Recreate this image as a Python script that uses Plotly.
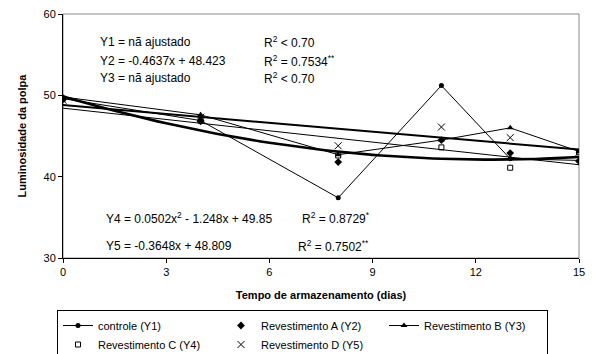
import plotly.graph_objects as go

days = [0, 4, 8, 11, 13, 15]
controle = [49.6, 46.9, 37.4, 51.2, 42.2, 42.0]
rev_a = [49.5, 46.8, 41.8, 44.5, 42.9, 41.9]
rev_b = [49.8, 47.6, 42.7, 44.5, 46.0, 43.1]
rev_c = [49.6, 46.9, 42.6, 43.6, 41.1, 43.0]
rev_d = [49.4, 47.3, 43.8, 46.1, 44.8, 43.0]

# trendline coefficients printed on the chart (c2, c1, c0)
coef_y2 = [0.0, -0.4637, 48.423]
coef_y4 = [0.0502, -1.248, 49.85]
coef_y5 = [0.0, -0.3648, 48.809]

x_tick_vals = [0, 3, 6, 9, 12, 15]
y_tick_vals = [30, 40, 50, 60]

FONT = "Arial, Liberation Sans, sans-serif"

xs = [i * 0.25 for i in range(61)]
def curve(c):
    return [c[0] * x * x + c[1] * x + c[2] for x in xs]

fig = go.Figure()

# trendlines
fig.add_trace(go.Scatter(x=xs, y=curve(coef_y2), mode="lines",
                         line=dict(color="black", width=1), showlegend=False, hoverinfo="skip"))
fig.add_trace(go.Scatter(x=xs, y=curve(coef_y5), mode="lines",
                         line=dict(color="black", width=2), showlegend=False, hoverinfo="skip"))
fig.add_trace(go.Scatter(x=xs, y=curve(coef_y4), mode="lines",
                         line=dict(color="black", width=2.6), showlegend=False, hoverinfo="skip"))

fig.add_trace(go.Scatter(x=days, y=controle, mode="lines+markers", name="controle (Y1)",
                         line=dict(color="black", width=1),
                         marker=dict(symbol="circle", size=5, color="black")))
fig.add_trace(go.Scatter(x=days, y=rev_a, mode="markers", name="Revestimento A (Y2)",
                         marker=dict(symbol="diamond", size=6, color="black")))
fig.add_trace(go.Scatter(x=days, y=rev_b, mode="lines+markers", name="Revestimento B (Y3)",
                         line=dict(color="black", width=1),
                         marker=dict(symbol="triangle-up", size=6, color="black")))
fig.add_trace(go.Scatter(x=days, y=rev_c, mode="markers", name="Revestimento C (Y4)",
                         marker=dict(symbol="square-open", size=5, color="black",
                                     line=dict(width=1, color="black"))))
fig.add_trace(go.Scatter(x=days, y=rev_d, mode="markers", name="Revestimento D (Y5)",
                         marker=dict(symbol="x-thin-open", size=7, color="black",
                                     line=dict(width=1, color="black"))))

def note(x, y, text):
    fig.add_annotation(x=x, y=y, xref="paper", yref="paper", text=text, showarrow=False,
                       xanchor="left", yanchor="middle", font=dict(size=12, color="black", family=FONT))

def px_x(p):
    return (p - 63) / (579 - 63)

def px_y(p):
    return (258 - p) / (258 - 14)

note(px_x(98), px_y(42), "Y1 = nã ajustado")
note(px_x(98), px_y(61), "Y2 = -0.4637x + 48.423")
note(px_x(98), px_y(78), "Y3 = nã ajustado")
note(px_x(262), px_y(42), "R<sup>2</sup> < 0.70")
note(px_x(262), px_y(61), "R<sup>2</sup> = 0.7534<sup>**</sup>")
note(px_x(262), px_y(78), "R<sup>2</sup> < 0.70")
note(px_x(104), px_y(218), "Y4 = 0.0502x<sup>2</sup> - 1.248x + 49.85")
note(px_x(104), px_y(246), "Y5 = -0.3648x + 48.809")
note(px_x(300), px_y(218), "R<sup>2</sup> = 0.8729<sup>*</sup>")
note(px_x(296), px_y(246), "R<sup>2</sup> = 0.7502<sup>**</sup>")

# gray frame (top/right)
fig.add_shape(type="rect", xref="paper", yref="paper", x0=0, y0=0, x1=1, y1=1,
              line=dict(color="#888888", width=1), layer="below")

fig.update_layout(
    width=594, height=354,
    margin=dict(l=63, r=15, t=14, b=96, autoexpand=False),
    paper_bgcolor="white", plot_bgcolor="white",
    font=dict(family=FONT, size=11, color="black"),
    xaxis=dict(range=[0, 15], tickvals=x_tick_vals, showgrid=False, zeroline=False,
               showline=True, linecolor="black", linewidth=1, ticks="outside", ticklen=4,
               tickcolor="black", tickfont=dict(size=11),
               title=dict(text="<b>Tempo de armazenamento (dias)</b>", font=dict(size=11), standoff=14)),
    yaxis=dict(range=[30, 60], tickvals=y_tick_vals, showgrid=False, zeroline=False,
               showline=True, linecolor="black", linewidth=1, ticks="outside", ticklen=4,
               tickcolor="black", tickfont=dict(size=11),
               title=dict(text="<b>Luminosidade da polpa</b>", font=dict(size=11), standoff=14)),
    legend=dict(orientation="h", xref="container", yref="container",
                x=57 / 594, xanchor="left", y=1 - 310 / 354, yanchor="top",
                bordercolor="black", borderwidth=1, bgcolor="white",
                entrywidth=118, entrywidthmode="pixels",
                font=dict(size=11), tracegroupgap=0, itemwidth=30),
)

fig.write_html("out.html")
